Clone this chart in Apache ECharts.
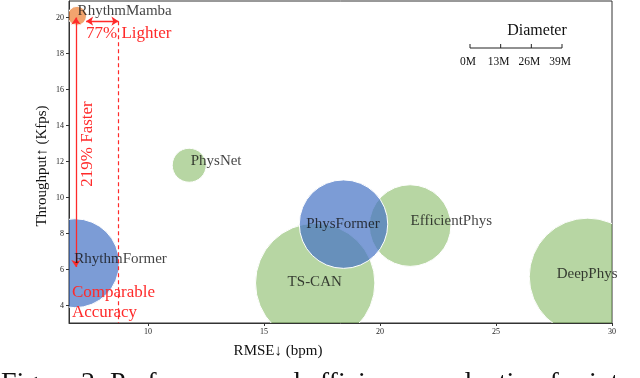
<!DOCTYPE html>
<html>
<head>
<meta charset="utf-8">
<script src="https://cdn.jsdelivr.net/npm/echarts@6/dist/echarts.min.js"></script>
<style>
  html, body { margin: 0; padding: 0; background: #fff; }
  #chart { width: 640px; height: 378px; }
</style>
</head>
<body>
<div id="chart"></div>
<script>
// values
const models = ['RhythmMamba', 'RhythmFormer', 'PhysNet', 'PhysFormer', 'EfficientPhys', 'TS-CAN', 'DeepPhys']
const rmse = [6.95, 6.85, 11.78, 18.43, 21.3, 17.21, 28.95]
const throughput = [20.1, 6.36, 11.8, 8.53, 8.45, 5.26, 5.62]
const diameterM = [8.0, 37.7, 14.4, 37.5, 34.6, 50.6, 49.5]
const family = ['mamba', 'transformer', 'cnn', 'transformer', 'cnn', 'cnn', 'cnn']

const xTicks = [10, 15, 20, 25, 30]
const yTicks = [4, 6, 8, 10, 12, 14, 16, 18, 20]
const diameterTicks = [0, 13, 26, 39]

// annotation anchors (data units)
const speedArrow = [[6.9, 20], [6.9, 6.15]]
const lightArrow = [[7.34, 19.8], [8.73, 19.8]]
const lightGuide = [[8.73, 19.8], [8.73, 3.04]]

const SERIF = '"Liberation Serif", "DejaVu Serif", serif'
const PX_PER_M = 92 / 39
const RED = '#ff2a2a'
const colors = {
  cnn: 'rgba(112,173,71,0.5)',
  transformer: 'rgba(68,114,196,0.7)',
  mamba: 'rgba(237,125,49,0.7)'
}
const drawRank = { cnn: 0, transformer: 1, mamba: 2 }
const labelStyle = {
  RhythmMamba: ['left', 1, -4],
  RhythmFormer: ['left', 0, -4],
  PhysNet: ['left', 2, -4],
  PhysFormer: ['center', 0, 0],
  EfficientPhys: ['left', 1, -4],
  'TS-CAN': ['center', 0, 0],
  DeepPhys: ['center', 0, -2]
}

const order = models.map((_, i) => i).sort((a, b) => drawRank[family[a]] - drawRank[family[b]])
const bubbleData = order.map(i => [rmse[i], throughput[i], diameterM[i], models[i], family[i]])

const chart = echarts.init(document.getElementById('chart'))

// size legend (scale bar in px per million)
const legendX0 = 470
const legendY = 48
const legendGraphics = [{
  type: 'text', x: 537, y: 31, z: 100,
  style: { text: 'Diameter', font: '16px ' + SERIF, fill: '#111', align: 'center', verticalAlign: 'middle' }
}, {
  type: 'line', z: 100, shape: { x1: legendX0, y1: legendY, x2: legendX0 + 39 * PX_PER_M, y2: legendY },
  style: { stroke: '#222', lineWidth: 1 }
}]
diameterTicks.forEach(t => {
  const x = legendX0 + t * PX_PER_M
  legendGraphics.push({
    type: 'line', z: 100, shape: { x1: x, y1: legendY - 4, x2: x, y2: legendY },
    style: { stroke: '#222', lineWidth: 1 }
  })
  legendGraphics.push({
    type: 'text', x: x - 2, y: 62, z: 100,
    style: { text: t + 'M', font: '11.5px ' + SERIF, fill: '#111', align: 'center', verticalAlign: 'middle' }
  })
})

function note(text, x, y, size, color, rotated, align) {
  return {
    type: 'text', x, y, z: 100, rotation: rotated ? Math.PI / 2 : 0,
    style: { text, font: size + 'px ' + SERIF, fill: color, align: align || 'left', verticalAlign: 'middle' }
  }
}

chart.setOption({
  animation: false,
  backgroundColor: '#fff',
  grid: { left: 69, right: 28, top: 1, bottom: 55, show: true, borderColor: '#333', borderWidth: 1 },
  xAxis: {
    type: 'value', min: 6.6, max: 30,
    axisLine: { show: true, lineStyle: { color: '#333', width: 1 } },
    axisTick: { show: true, length: 3, customValues: xTicks, lineStyle: { color: '#333' } },
    axisLabel: { customValues: xTicks, fontFamily: SERIF, fontSize: 8, color: '#222', margin: 5 },
    splitLine: { show: false }
  },
  yAxis: {
    type: 'value', min: 3.04, max: 20.92,
    axisLine: { show: true, lineStyle: { color: '#333', width: 1 } },
    axisTick: { show: true, length: 3, customValues: yTicks, lineStyle: { color: '#333' } },
    axisLabel: { customValues: yTicks, fontFamily: SERIF, fontSize: 8, color: '#222', margin: 5 },
    splitLine: { show: false }
  },
  series: [
    {
      type: 'custom',
      clip: true,
      z: 2,
      data: bubbleData,
      encode: { x: 0, y: 1 },
      renderItem(params, api) {
        const item = bubbleData[params.dataIndex]
        const p = api.coord([item[0], item[1]])
        return {
          type: 'circle',
          shape: { cx: p[0], cy: p[1], r: item[2] * PX_PER_M / 2 },
          style: { fill: colors[item[4]], stroke: '#fff', lineWidth: 1 }
        }
      }
    },
    {
      type: 'scatter',
      z: 5,
      symbolSize: 1,
      itemStyle: { color: 'rgba(0,0,0,0)' },
      data: models.map((m, i) => {
        const s = labelStyle[m]
        return {
          value: [rmse[i], throughput[i]],
          label: {
            show: true, formatter: m, position: [s[1], s[2]], align: s[0], verticalAlign: 'middle',
            fontFamily: SERIF, fontSize: 15, color: '#111'
          }
        }
      }),
      markLine: {
        silent: true,
        symbolSize: 7,
        label: { show: false },
        lineStyle: { color: RED, width: 1.3, type: 'solid' },
        data: [
          [{ coord: speedArrow[0], symbol: 'arrow' }, { coord: speedArrow[1], symbol: 'arrow' }],
          [{ coord: lightArrow[0], symbol: 'arrow' }, { coord: lightArrow[1], symbol: 'arrow' }],
          [{ coord: lightGuide[0], symbol: 'none', lineStyle: { type: [4, 3], width: 1.2 } },
           { coord: lightGuide[1], symbol: 'none' }]
        ]
      }
    }
  ],
  graphic: [
    note('RMSE↓ (bpm)', 278, 351, 15, '#111', false, 'center'),
    note('Throughput↑ (Kfps)', 42, 166, 15, '#111', true, 'center'),
    note('77% Lighter', 86, 34, 17, RED),
    note('219% Faster', 88, 144, 17, RED, true, 'center'),
    note('Comparable', 72, 293, 17, RED),
    note('Accuracy', 72, 313, 17, RED),
    {
      type: 'text', x: 1, y: 370, z: 100,
      style: { text: 'Figure 2: Performance and efficiency evaluation for intra', font: '28px ' + SERIF, fill: '#111', align: 'left', verticalAlign: 'top' }
    },
    ...legendGraphics
  ]
})
</script>
</body>
</html>
